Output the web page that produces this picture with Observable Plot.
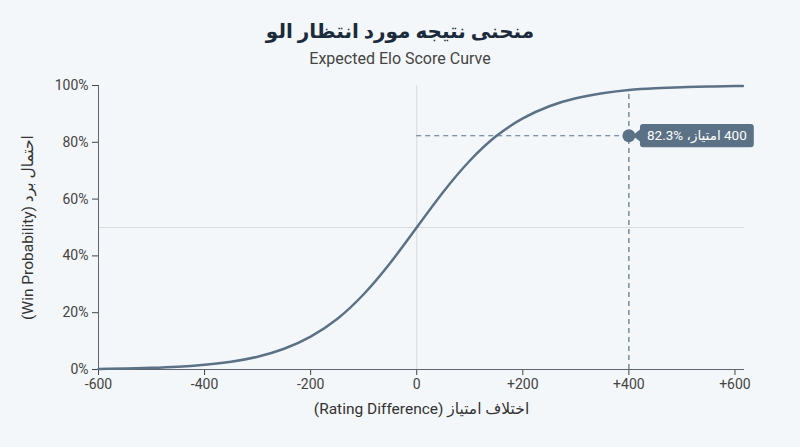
<!DOCTYPE html>
<html>
<head>
<meta charset="utf-8">
<script src="https://cdn.jsdelivr.net/npm/d3@7"></script>
<script src="https://cdn.jsdelivr.net/npm/@observablehq/plot@0.6"></script>
<style>
  html, body { margin: 0; padding: 0; background: #f4f7f9; }
  body { font-family: Roboto, "DejaVu Sans", sans-serif; }
  #wrap { width: 800px; height: 447px; position: relative; overflow: hidden; }
  #title { position: absolute; top: 15px; left: 0; width: 800px; text-align: center;
           font-size: 20px; font-weight: 700; color: #1b2b3c; line-height: 32px; direction: rtl; }
  #subtitle { position: absolute; top: 48px; left: 0; width: 800px; text-align: center;
              font-size: 16px; color: #444; line-height: 22px; }
  #chart { position: absolute; top: 70px; left: 0; }
</style>
</head>
<body>
<div id="wrap">
  <div id="title"></div>
  <div id="subtitle"></div>
  <div id="chart"></div>
</div>
<script>
// ---- data ----
const titleText = "منحنی نتیجه مورد انتظار الو";
const subtitleText = "Expected Elo Score Curve";
const xLabelText = "اختلاف امتیاز (Rating Difference)";
const yLabelText = "احتمال برد (Win Probability)";

const ratingDiff = [-600, -550, -500, -450, -400, -350, -300, -250, -200, -150, -100, -50,
                    0, 50, 100, 150, 200, 250, 300, 350, 400, 450, 500, 550, 600, 615];
const winProb = [0.2, 0.36, 0.6, 1.0, 1.7, 2.75, 4.5, 7.3, 11.6, 17.8, 26.5, 37.5,
                 50, 62.5, 73.5, 82.2, 88.4, 92.7, 95.5, 97.25, 98.4, 99.0, 99.4, 99.64, 99.8, 99.82];

const xTicks = [-600, -400, -200, 0, 200, 400, 600];
const yTicks = [0, 20, 40, 60, 80, 100];

const highlightX = [400];
const highlightY = [82.3];
const highlightCurveY = [98.4];
const highlightLabel = ["400 امتیاز، \u202A82.3%\u202C"];

// ---- build ----
document.getElementById("title").textContent = titleText;
document.getElementById("subtitle").textContent = subtitleText;

const curve = ratingDiff.map((d, i) => ({ x: d, y: winProb[i] }));
const hl = highlightX.map((d, i) => ({ x: d, y: highlightY[i], top: highlightCurveY[i], label: highlightLabel[i] }));

const lineColor = "#5a7186";
const gridColor = "#d7dce1";
const axisColor = "#5f6670";

const chart = Plot.plot({
  width: 800,
  height: 377,
  marginTop: 15,
  marginBottom: 78,
  marginLeft: 98,
  marginRight: 56,
  style: { background: "transparent", fontFamily: "Roboto, 'DejaVu Sans', sans-serif", fontSize: "13.5px", color: "#444" },
  x: { domain: [-600, 618], ticks: xTicks, tickFormat: d => d > 0 ? "+" + d : String(d), tickSize: 6, tickPadding: 4, label: null },
  y: { domain: [0, 100], ticks: yTicks, tickFormat: d => d + "%", tickSize: 6, tickPadding: 4, label: null },
  marks: [
    Plot.ruleX([0], { stroke: gridColor, strokeWidth: 1 }),
    Plot.ruleY([50], { stroke: gridColor, strokeWidth: 1 }),
    Plot.ruleX([-600], { stroke: axisColor, strokeWidth: 1 }),
    Plot.ruleY([0], { stroke: axisColor, strokeWidth: 1 }),
    Plot.ruleY(hl, { y: "y", x1: 0, x2: "x", stroke: lineColor, strokeWidth: 1.2, strokeDasharray: "5,4" }),
    Plot.ruleX(hl, { x: "x", y1: 0, y2: "top", stroke: lineColor, strokeWidth: 1.2, strokeDasharray: "5,4" }),
    Plot.line(curve, { x: "x", y: "y", stroke: lineColor, strokeWidth: 2.5, curve: "natural" }),
    Plot.dot(hl, { x: "x", y: "y", r: 6.5, fill: lineColor, stroke: "none" }),
    Plot.text(hl, { x: "x", y: "y", text: "label", dx: 68, fill: "white", fontSize: 13.5, textAnchor: "middle" }),
    Plot.text([xLabelText], { frameAnchor: "bottom", dy: 44, fontSize: 15.5, fill: "#333", textAnchor: "middle" }),
    Plot.text([yLabelText], { frameAnchor: "left", dx: -70, rotate: -90, fontSize: 15.5, fill: "#333", textAnchor: "middle" })
  ]
});

document.getElementById("chart").appendChild(chart);

// tick label size
chart.querySelectorAll('g[aria-label$="tick label"]').forEach(g => {
  g.setAttribute("font-size", "14");
  g.style.fontSize = "14px";
});

// right-to-left direction for texts containing Persian
chart.querySelectorAll("text").forEach(t => {
  if (/[\u0600-\u06FF]/.test(t.textContent)) t.setAttribute("direction", "rtl");
});

// callout box behind the highlight label
chart.querySelectorAll("text").forEach(t => {
  if (highlightLabel.includes(t.textContent)) {
    const bb = t.getBBox();
    const cy = bb.y + bb.height / 2;
    const x0 = bb.x - 7, x1 = bb.x + bb.width + 7;
    const y0 = cy - 11.7, y1 = cy + 11.7;
    const r = 3;
    const tip = x0 - 7.5;
    const p = d3.path();
    p.moveTo(x0 + r, y0);
    p.lineTo(x1 - r, y0);
    p.quadraticCurveTo(x1, y0, x1, y0 + r);
    p.lineTo(x1, y1 - r);
    p.quadraticCurveTo(x1, y1, x1 - r, y1);
    p.lineTo(x0 + r, y1);
    p.quadraticCurveTo(x0, y1, x0, y1 - r);
    p.lineTo(x0, cy + 6);
    p.lineTo(tip, cy);
    p.lineTo(x0, cy - 6);
    p.lineTo(x0, y0 + r);
    p.quadraticCurveTo(x0, y0, x0 + r, y0);
    p.closePath();
    const path = document.createElementNS("http://www.w3.org/2000/svg", "path");
    path.setAttribute("d", p.toString());
    path.setAttribute("fill", lineColor);
    const tr = t.getAttribute("transform");
    if (tr) path.setAttribute("transform", tr);
    t.parentNode.insertBefore(path, t);
  }
});
</script>
</body>
</html>
